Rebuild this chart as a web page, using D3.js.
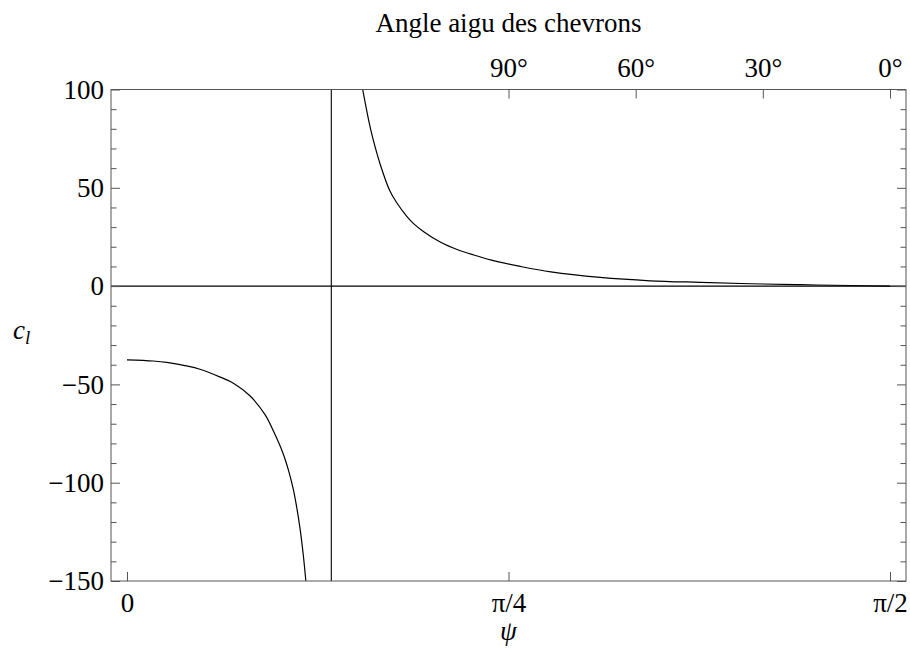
<!DOCTYPE html>
<html>
<head>
<meta charset="utf-8">
<script src="https://cdn.jsdelivr.net/npm/d3@7"></script>
<style>
  html, body { margin: 0; padding: 0; background: #fff; }
  svg { display: block; }
  svg text { font-family: "Liberation Serif", "Times New Roman", Times, serif; }
</style>
</head>
<body>
<svg id="chart" width="910" height="655"></svg>
<script>
// ---- Data (ψ in degrees, c_l values) ----
const negPsi = [0, 3.1, 4.7, 7.0, 8.6, 11.0, 12.6, 14.5, 16.3, 17.3, 18.4, 19.0, 19.6, 20.0, 20.4, 20.8, 21.1];
const negVal = [-37.5, -38.1, -38.8, -40.6, -42.3, -46.3, -49.5, -55.8, -65.5, -74, -85, -93, -103, -112, -123, -137, -150];
const posPsi = [27.8, 28.3, 28.7, 29.1, 29.9, 31.0, 31.8, 33.0, 33.8, 35.0, 37.0, 39.0, 40.9, 43.0, 46.4, 50.0, 55.8, 61.7, 67.6, 73.5, 79.4, 85.3, 90];
const posVal = [100, 88.7, 80.5, 73.5, 61.5, 48.5, 42.5, 35.5, 31.8, 27.7, 22.3, 18.5, 15.8, 13.2, 10.0, 7.2, 4.4, 2.7, 1.9, 1.2, 0.7, 0.3, 0];
const asymptotePsi = 24.1;
const bottomTickPsi = [0, 45, 90];
const bottomTickLabels = ["0", "π/4", "π/2"];
const topTickAngles = [90, 60, 30, 0];          // chevron acute angle, degrees
const yMajorTicks = [-150, -100, -50, 0, 50, 100];
const yMinorTicks = d3.range(-150, 101, 10).filter(v => v % 50 !== 0);
const xDomain = [-1.886, 91.886];
const yDomain = [-150, 100];

// ---- Layout ----
const L = 111, R = 906, T = 89.5, B = 581;
const FS = 27;
const FONT = '"Liberation Serif", "Times New Roman", Times, serif';
const frameColor = "#555";

const svg = d3.select("#chart");
const x = d3.scaleLinear().domain(xDomain).range([L, R]);
const y = d3.scaleLinear().domain(yDomain).range([B, T]);

svg.append("defs").append("clipPath").attr("id", "clip")
  .append("rect").attr("x", L).attr("y", T).attr("width", R - L).attr("height", B - T);

const plot = svg.append("g").attr("clip-path", "url(#clip)");

// axes lines (origin lines)
plot.append("line").attr("x1", L).attr("x2", R).attr("y1", y(0)).attr("y2", y(0))
  .attr("stroke", "#000").attr("stroke-width", 1.1);
plot.append("line").attr("x1", x(asymptotePsi)).attr("x2", x(asymptotePsi)).attr("y1", T).attr("y2", B)
  .attr("stroke", "#000").attr("stroke-width", 1.1);

// curves
const line = d3.line().x(d => x(d[0])).y(d => y(d[1])).curve(d3.curveCatmullRom.alpha(0.5));
const negData = negPsi.map((p, i) => [p, negVal[i]]);
const posData = posPsi.map((p, i) => [p, posVal[i]]);
[negData, posData].forEach(data => {
  plot.append("path").datum(data).attr("d", line)
    .attr("fill", "none").attr("stroke", "#000").attr("stroke-width", 1.2);
});

// ---- Axes ----
const fmt = d => d < 0 ? "−" + Math.abs(d) : String(d);
function styleAxis(g) {
  g.attr("font-family", FONT).attr("font-size", FS);
  g.select(".domain").remove();
  g.selectAll(".tick line").attr("stroke", frameColor).attr("stroke-width", 1);
  g.selectAll(".tick text").attr("fill", "#000")
    .attr("font-family", FONT).attr("font-size", FS);
}

// left
svg.append("g").attr("transform", `translate(${L},0)`)
  .call(d3.axisLeft(y).tickValues(yMajorTicks).tickSize(-9).tickPadding(7).tickFormat(fmt)).call(styleAxis);
svg.append("g").attr("transform", `translate(${L},0)`)
  .call(d3.axisLeft(y).tickValues(yMinorTicks).tickSize(-5.5).tickFormat("")).call(styleAxis);
// right
svg.append("g").attr("transform", `translate(${R},0)`)
  .call(d3.axisRight(y).tickValues(yMajorTicks).tickSize(-9).tickFormat("")).call(styleAxis);
svg.append("g").attr("transform", `translate(${R},0)`)
  .call(d3.axisRight(y).tickValues(yMinorTicks).tickSize(-5.5).tickFormat("")).call(styleAxis);
// bottom
svg.append("g").attr("transform", `translate(0,${B})`)
  .call(d3.axisBottom(x).tickValues(bottomTickPsi).tickSize(-9).tickPadding(12)
    .tickFormat((d, i) => bottomTickLabels[i])).call(styleAxis);
// top (chevron angle = 180° − 2ψ)
const topPsi = topTickAngles.map(a => (180 - a) / 2);
svg.append("g").attr("transform", `translate(0,${T})`)
  .call(d3.axisTop(x).tickValues(topPsi).tickSize(-9).tickPadding(12.5)
    .tickFormat((d, i) => topTickAngles[i] + "°")).call(styleAxis);

// frame
svg.append("rect").attr("x", L).attr("y", T).attr("width", R - L).attr("height", B - T)
  .attr("fill", "none").attr("stroke", frameColor).attr("stroke-width", 1);

// ---- Labels ----
svg.append("text").attr("x", (L + R) / 2).attr("y", 32).attr("text-anchor", "middle")
  .attr("font-family", FONT).attr("font-size", FS).text("Angle aigu des chevrons");
svg.append("text").attr("x", (L + R) / 2).attr("y", 640).attr("text-anchor", "middle")
  .attr("font-family", FONT).attr("font-size", FS).attr("font-style", "italic").text("ψ");
const cl = svg.append("text").attr("x", 13).attr("y", 339)
  .attr("font-family", FONT).attr("font-size", FS).attr("font-style", "italic");
cl.append("tspan").text("c");
cl.append("tspan").attr("dy", 5).attr("font-size", 19).text("l");
</script>
</body>
</html>
